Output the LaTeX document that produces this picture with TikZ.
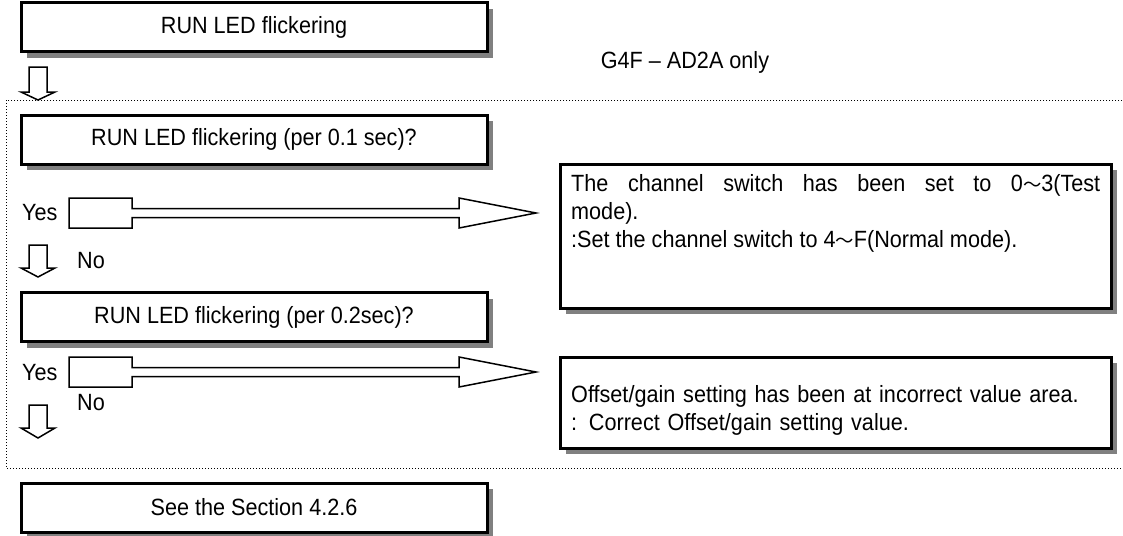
\documentclass[tikz,border=0pt]{standalone}
\usepackage{fontspec}
\setmainfont{Liberation Sans}[FakeStretch=0.92]
\newfontfamily\cjk{Noto Sans CJK JP}[Scale=0.78]
\usetikzlibrary{positioning,shadows}
\tolerance=9999
\newcommand\wave{{\cjk ～}}

\begin{document}
\begin{tikzpicture}[x=1pt, y=-1pt,
    every node/.style={font=\fontsize{23.5}{28}\selectfont},
    grayshadow/.style={drop shadow={shadow xshift=6pt, shadow yshift=-6pt,
                       fill=gray, opacity=1}},
    stepcard/.style={draw, line width=3pt, fill=white, inner sep=0pt,
                     minimum width=466pt, minimum height=49pt, grayshadow},
    notecard/.style={draw, line width=3pt, fill=white, inner sep=0pt,
                     minimum width=551pt, grayshadow},
    notetext/.style={anchor=north west, inner sep=0pt, text width=529pt},
    answer/.style={anchor=base west, inner sep=0pt},
    hollow/.style={draw, line width=1.5pt, fill=white, line join=miter}
  ]
  \useasboundingbox (0,0) rectangle (1123,535);
  % dotted frame round the G4F-AD2A checks
  \draw[dotted, line width=1pt] (6,100) rectangle (1126,468);
  % LEFT: checking steps
  \node[stepcard] (run) at (254,27.5) {RUN LED flickering};
  \node[stepcard, below=60pt of run] (fast) {RUN LED flickering (per 0.1 sec)?};
  \node[stepcard, below=125.5pt of fast] (slow) {RUN LED flickering (per 0.2sec)?};
  \node[stepcard, below=138.5pt of slow] (sect) {See the Section 4.2.6};
  \node (only) at (685,62) {G4F -- AD2A only};
  % RIGHT: causes and remedies
  \node[notecard, minimum height=144pt] (mode) at (835.5,236) {};
  \node[notetext, align=justify, below right=11.5pt and 12.5pt of mode.north west] (modetxt) {%
    The channel switch has been set to 0\wave3(Test\linebreak mode).\\%
    :Set the channel switch to 4\wave F(Normal mode).};
  \node[notecard, minimum height=91pt] (gain) at (835.5,402.5) {};
  \node[notetext, align=left, below right=30pt and 12.5pt of gain.north west] (gaintxt) {%
    Offset/gain setting has been at incorrect value area.\\%
    : Correct Offset/gain setting value.};
  % Yes / No answers
  \node[answer] (yes1) at (22,220) {Yes};
  \node[answer] (no1) at (77,268) {No};
  \node[answer] (yes2) at (22,380) {Yes};
  \node[answer] (no2) at (77,410) {No};
  % hollow arrows: Yes -> cause
  \foreach \cy in {213,372}
    \draw[hollow] (132,\cy-4.5) -- (459,\cy-4.5) -- (459,\cy-15) -- (536,\cy)
      -- (459,\cy+15) -- (459,\cy+4.5) -- (132,\cy+4.5) -- (132,\cy+15)
      -- (69,\cy+15) -- (69,\cy-15) -- (132,\cy-15) -- cycle;
  % hollow arrows: No -> next step
  \foreach \ya/\yb/\yc in {67/92/100, 245/268/277, 405/428/438}
    \draw[hollow] (29,\ya) -- (47,\ya) -- (47,\yb) -- (55,\yb) -- (38,\yc)
      -- (21,\yb) -- (29,\yb) -- cycle;
\end{tikzpicture}
\end{document}
